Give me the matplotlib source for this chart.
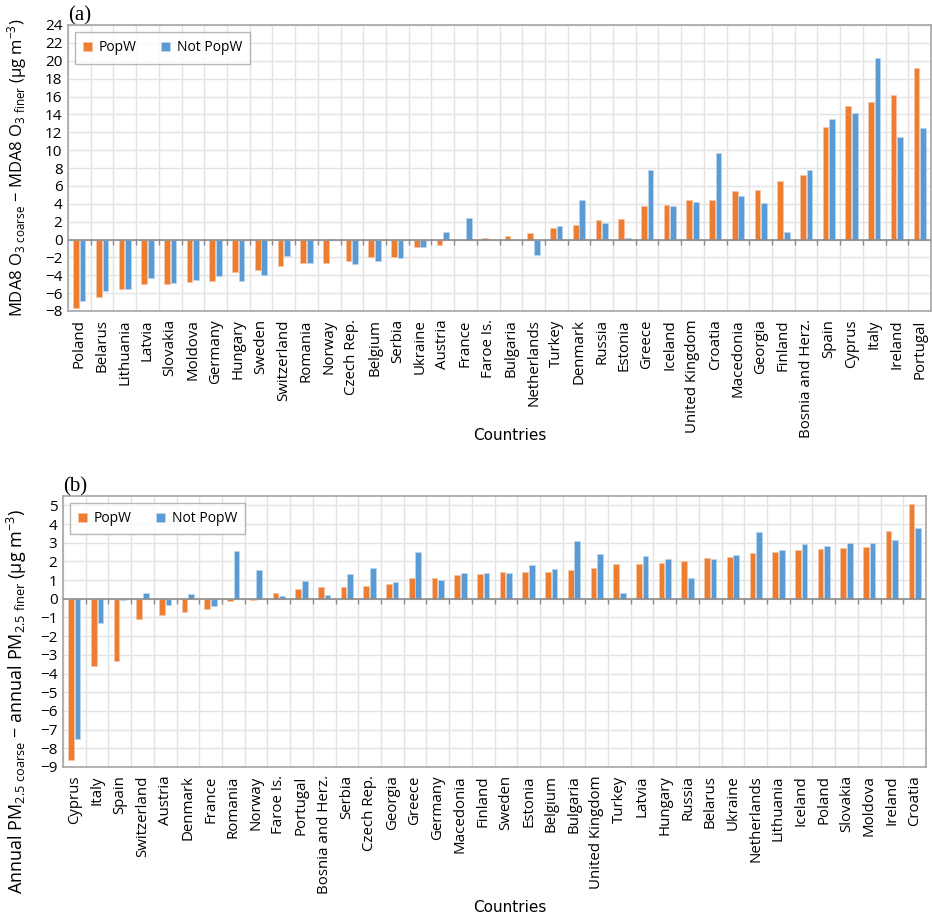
import matplotlib
matplotlib.use('Agg')
import matplotlib.pyplot as plt
import numpy as np

plt.rcParams['font.family'] = ['Open Sans', 'DejaVu Sans']
plt.rcParams['mathtext.default'] = 'regular'

# panel (a): MDA8 O3 differences
countries_a = ['Poland', 'Belarus', 'Lithuania', 'Latvia', 'Slovakia', 'Moldova', 'Germany',
               'Hungary', 'Sweden', 'Switzerland', 'Romania', 'Norway', 'Czech Rep.', 'Belgium',
               'Serbia', 'Ukraine', 'Austria', 'France', 'Faroe Is.', 'Bulgaria', 'Netherlands',
               'Turkey', 'Denmark', 'Russia', 'Estonia', 'Greece', 'Iceland', 'United Kingdom',
               'Croatia', 'Macedonia', 'Georgia', 'Finland', 'Bosnia and Herz.', 'Spain',
               'Cyprus', 'Italy', 'Ireland', 'Portugal']
popw_a = [-7.65, -6.4, -5.5, -4.95, -4.95, -4.75, -4.65, -3.65, -3.45, -2.95, -2.65, -2.65,
          -2.45, -1.95, -1.95, -0.8, -0.6, -0.07, 0.22, 0.41, 0.74, 1.26, 1.6, 2.19, 2.27,
          3.72, 3.9, 4.39, 4.46, 5.46, 5.58, 6.5, 7.17, 12.57, 14.98, 15.39, 16.17, 19.14]
notpopw_a = [-6.9, -5.76, -5.5, -4.35, -4.9, -4.54, -4.09, -4.65, -4.0, -1.82, -2.62, 0.08,
             -2.75, -2.45, -2.04, -0.82, 0.82, 2.42, -0.07, -0.07, -1.78, 1.49, 4.46, 1.82,
             0.19, 7.73, 3.72, 4.16, 9.67, 4.83, 4.13, 0.89, 7.8, 13.53, 14.2, 20.26, 11.49,
             12.49]

# panel (b): annual PM2.5 differences
countries_b = ['Cyprus', 'Italy', 'Spain', 'Switzerland', 'Austria', 'Denmark', 'France',
               'Romania', 'Norway', 'Faroe Is.', 'Portugal', 'Bosnia and Herz.', 'Serbia',
               'Czech Rep.', 'Georgia', 'Greece', 'Germany', 'Macedonia', 'Finland', 'Sweden',
               'Estonia', 'Belgium', 'Bulgaria', 'United Kingdom', 'Turkey', 'Latvia',
               'Hungary', 'Russia', 'Belarus', 'Ukraine', 'Netherlands', 'Lithuania', 'Iceland',
               'Poland', 'Slovakia', 'Moldova', 'Ireland', 'Croatia']
popw_b = [-8.64, -3.58, -3.32, -1.1, -0.87, -0.73, -0.52, -0.1, -0.04, 0.3, 0.51, 0.61,
          0.61, 0.66, 0.79, 1.09, 1.11, 1.25, 1.32, 1.41, 1.43, 1.46, 1.54, 1.64, 1.84, 1.86,
          1.89, 2.0, 2.16, 2.21, 2.46, 2.5, 2.59, 2.66, 2.73, 2.79, 3.61, 5.07]
notpopw_b = [-7.52, -1.32, -0.04, 0.29, -0.34, 0.23, -0.41, 2.55, 1.53, 0.14, 0.95, 0.2,
             1.32, 1.66, 0.89, 2.5, 1.0, 1.36, 1.36, 1.36, 1.79, 1.59, 3.11, 2.38, 0.29, 2.29,
             2.14, 1.13, 2.11, 2.34, 3.59, 2.59, 2.93, 2.82, 3.0, 2.96, 3.16, 3.79]

ORANGE = '#ED7D31'
BLUE = '#5B9BD5'
W, H = 932, 918

fig = plt.figure(figsize=(9.32, 9.18), dpi=100)


def draw_panel(ax, cats, v1, v2, ymin, ymax, ylabel, tick_len, ylab_size, ylab_y, xlab_px):
    x = np.arange(len(cats))
    ax.bar(x - 0.145, v1, width=0.25, color=ORANGE, edgecolor='#F6C4A3', linewidth=0.5,
           label='PopW', zorder=3)
    ax.bar(x + 0.145, v2, width=0.25, color=BLUE, edgecolor='#BDD7EE', linewidth=0.5,
           label='Not PopW', zorder=3)
    ax.set_xlim(-0.5, len(cats) - 0.5)
    ax.set_ylim(ymin, ymax)
    ax.set_yticks(np.arange(ymin, int(ymax) + 1, 2 if ymax > 10 else 1))
    ax.set_xticks(x)
    ax.set_xticklabels(cats, rotation=90, fontsize=10.8)
    ax.tick_params(axis='x', length=0, pad=6)
    ax.tick_params(axis='y', length=0, labelsize=11, pad=4)
    # grid
    ax.set_axisbelow(True)
    ax.yaxis.grid(True, color='#E3E3E3', linewidth=1)
    for b in np.arange(-0.5, len(cats), 1):
        ax.axvline(b, color='#E3E3E3', linewidth=1, zorder=0)
    # zero line with small ticks
    ax.axhline(0, color='#8C8C8C', linewidth=1.2, zorder=4)
    ax.vlines(np.arange(0.5, len(cats) - 1, 1), -tick_len, 0, color='#8C8C8C',
              linewidth=1, zorder=4)
    for s in ax.spines.values():
        s.set_color('#A6A6A6')
        s.set_linewidth(1.2)
    ax.set_ylabel(ylabel, fontsize=ylab_size)
    pos = ax.get_position()
    ax.yaxis.set_label_coords((29 / W - pos.x0) / pos.width, ylab_y)
    fig.text(510 / W, 1 - xlab_px / H, 'Countries', fontsize=11, ha='center', va='center',
             family=['Liberation Sans Narrow', 'DejaVu Sans'])
    leg = ax.legend(loc='upper left', ncol=2, frameon=True, fancybox=False,
                    handlelength=0.6, handleheight=0.6, fontsize=10, borderpad=0.6,
                    columnspacing=1.8, handletextpad=0.5, borderaxespad=0,
                    bbox_to_anchor=(0.008, 0.975))
    leg.get_frame().set_edgecolor('#A6A6A6')
    leg.get_frame().set_linewidth(1)
    return ax


ax1 = fig.add_axes([68 / W, 1 - 311 / H, 863 / W, 286 / H])
draw_panel(ax1, countries_a, popw_a, notpopw_a, -8, 24,
           r'MDA8 O$_{3\ coarse}$ − MDA8 O$_{3\ finer}$ (µg m$^{-3}$)', 0.6, 12, 0.5, 435)
ax1.text(0.0, 1.0, '(a)', transform=ax1.transAxes, fontsize=15,
         family=['Liberation Serif', 'DejaVu Serif'], va='bottom', ha='left')

ax2 = fig.add_axes([63 / W, 1 - 767 / H, 863 / W, 271 / H])
draw_panel(ax2, countries_b, popw_b, notpopw_b, -9, 5.5,
           r'Annual PM$_{2.5\ coarse}$ − annual PM$_{2.5\ finer}$ (µg m$^{-3}$)', 0.3, 13,
           0.24, 908)
ax2.text(0.0, 1.0, '(b)', transform=ax2.transAxes, fontsize=15,
         family=['Liberation Serif', 'DejaVu Serif'], va='bottom', ha='left')

fig.savefig('out.png', dpi=100)
